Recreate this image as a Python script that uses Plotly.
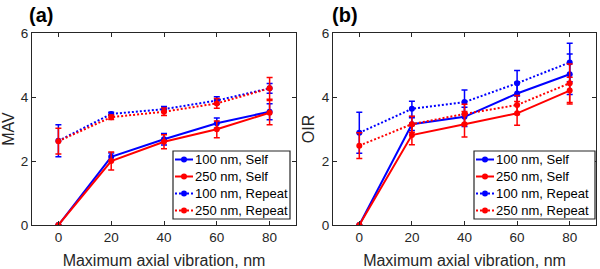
import plotly.graph_objects as go

x_vals = [0, 20, 40, 60, 80]
x_ticks = [0, 20, 40, 60, 80]
y_ticks = [0, 2, 4, 6]

# Panel (a): MAV
mav_100_self = [0, 2.13, 2.68, 3.18, 3.54]
mav_100_self_err = [0, 0.12, 0.18, 0.16, 0.25]
mav_250_self = [0, 2.0, 2.6, 2.99, 3.51]
mav_250_self_err = [0, 0.28, 0.22, 0.26, 0.38]
mav_100_rep = [2.63, 3.47, 3.62, 3.89, 4.27]
mav_100_rep_err = [0.5, 0.05, 0.08, 0.12, 0.15]
mav_250_rep = [2.62, 3.37, 3.54, 3.80, 4.27]
mav_250_rep_err = [0.4, 0.07, 0.12, 0.15, 0.34]

# Panel (b): OIR
oir_100_self = [0, 3.15, 3.38, 4.11, 4.71]
oir_100_self_err = [0, 0.2, 0.3, 0.35, 0.63]
oir_250_self = [0, 2.81, 3.15, 3.49, 4.2]
oir_250_self_err = [0, 0.3, 0.4, 0.37, 0.42]
oir_100_rep = [2.88, 3.63, 3.84, 4.43, 5.08]
oir_100_rep_err = [0.64, 0.24, 0.38, 0.4, 0.6]
oir_250_rep = [2.48, 3.15, 3.47, 3.75, 4.43]
oir_250_rep_err = [0.4, 0.25, 0.3, 0.3, 0.6]

series_names = ["100 nm, Self", "250 nm, Self", "100 nm, Repeat", "250 nm, Repeat"]
colors = ["rgb(0,0,255)", "rgb(255,0,0)", "rgb(0,0,255)", "rgb(255,0,0)"]
dashes = ["solid", "solid", "2px,2px", "2px,2px"]

panel_a = [(mav_100_self, mav_100_self_err), (mav_250_self, mav_250_self_err),
           (mav_100_rep, mav_100_rep_err), (mav_250_rep, mav_250_rep_err)]
panel_b = [(oir_100_self, oir_100_self_err), (oir_250_self, oir_250_self_err),
           (oir_100_rep, oir_100_rep_err), (oir_250_rep, oir_250_rep_err)]

FONT = "Liberation Sans, Arial, sans-serif"
AX = "#262626"
W, H = 600, 269


def px(v):
    return v / W


def py(v):
    return (H - v) / H


fig = go.Figure()
for panel, (xa, ya) in zip([panel_a, panel_b], [("x", "y"), ("x2", "y2")]):
    for (vals, errs), name, c, d in zip(panel, series_names, colors, dashes):
        fig.add_trace(go.Scatter(
            x=x_vals, y=vals, name=name, mode="lines+markers",
            line=dict(color=c, width=2, dash=d),
            marker=dict(color=c, size=6),
            error_y=dict(type="data", array=errs, visible=True, color=c, thickness=1.5, width=3),
            xaxis=xa, yaxis=ya, showlegend=False,
        ))

axis_common = dict(
    showgrid=False, zeroline=False, showline=True, linecolor=AX, linewidth=1,
    mirror="allticks", ticks="inside", ticklen=4, tickcolor=AX, automargin=False,
    tickfont=dict(family=FONT, size=13.5, color=AX),
)
xt = dict(text="Maximum axial vibration, nm", font=dict(size=16, color=AX, family=FONT), standoff=11)

fig.update_layout(
    width=W, height=H, margin=dict(l=0, r=0, t=0, b=0, pad=0),
    paper_bgcolor="white", plot_bgcolor="white",
    font=dict(family=FONT, color="black"),
    showlegend=False,
    xaxis=dict(domain=[px(32), px(296)], range=[-10, 90], tickvals=x_ticks,
               anchor="y", title=xt, **axis_common),
    yaxis=dict(domain=[py(225), py(33)], range=[0, 6], tickvals=y_ticks,
               anchor="x", **axis_common,
               title=dict(text="MAV", font=dict(size=16, color=AX, family=FONT), standoff=3)),
    xaxis2=dict(domain=[px(333), px(596)], range=[-10, 90], tickvals=x_ticks,
                anchor="y2", title=xt, **axis_common),
    yaxis2=dict(domain=[py(225), py(33)], range=[0, 6], tickvals=y_ticks,
                anchor="x2", **axis_common,
                title=dict(text="OIR", font=dict(size=16, color=AX, family=FONT), standoff=3)),
)


# Legend boxes (decoration laid out in pixels)
def add_legend(left, right, top, bottom):
    fig.add_shape(type="rect", xref="paper", yref="paper",
                  x0=px(left), x1=px(right), y0=py(bottom), y1=py(top),
                  line=dict(color=AX, width=1.2), fillcolor="white", layer="above")
    n = len(series_names)
    step = (bottom - top) / n
    for i, (name, c, d) in enumerate(zip(series_names, colors, dashes)):
        yc = top + step * (i + 0.5)
        fig.add_shape(type="line", xref="paper", yref="paper",
                      x0=px(left + 2), x1=px(left + 20), y0=py(yc), y1=py(yc),
                      line=dict(color=c, width=2, dash=d), layer="above")
        fig.add_shape(type="circle", xref="paper", yref="paper",
                      x0=px(left + 8), x1=px(left + 14), y0=py(yc + 3), y1=py(yc - 3),
                      line=dict(color=c, width=0), fillcolor=c, layer="above")
        fig.add_annotation(text=name, x=px(left + 20), y=py(yc), xref="paper", yref="paper",
                           xanchor="left", yanchor="middle", showarrow=False,
                           font=dict(family=FONT, size=13, color="black"))


add_legend(173, 290, 151, 219)
add_legend(474, 595, 151, 219)

fig.add_annotation(text="<b>(a)</b>", x=px(27), y=py(15), xref="paper", yref="paper",
                   xanchor="left", yanchor="middle", showarrow=False,
                   font=dict(family=FONT, size=20, color="black"))
fig.add_annotation(text="<b>(b)</b>", x=px(330), y=py(15), xref="paper", yref="paper",
                   xanchor="left", yanchor="middle", showarrow=False,
                   font=dict(family=FONT, size=20, color="black"))

fig.write_html("out.html", config={"displayModeBar": False},
               post_script="document.body.style.margin='0px';")
